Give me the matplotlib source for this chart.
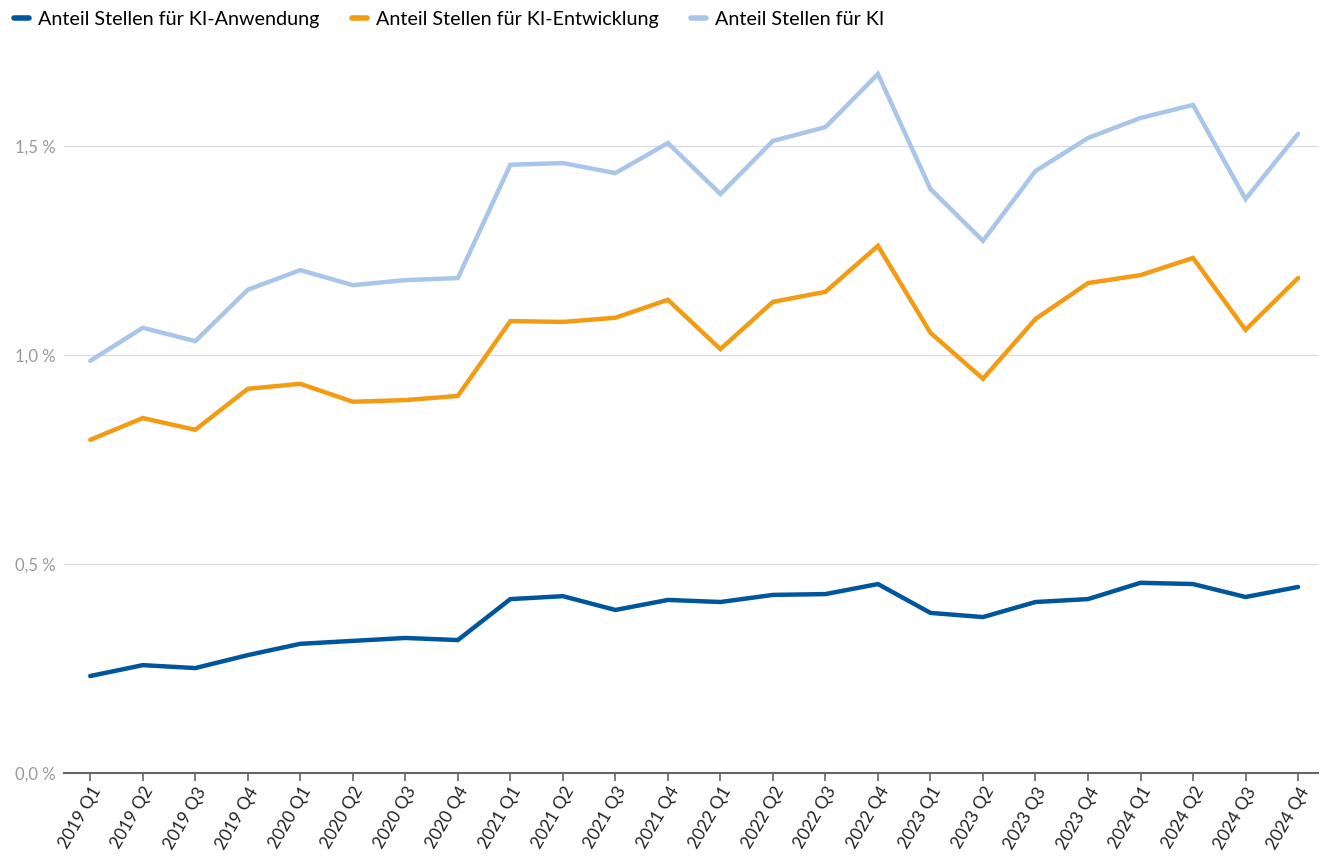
import matplotlib
matplotlib.use("Agg")
import matplotlib.pyplot as plt
from matplotlib.ticker import FuncFormatter

plt.rcParams['font.family'] = ['Lato', 'DejaVu Sans']

quarters = [f"{y} Q{q}" for y in range(2019, 2025) for q in range(1, 5)]

ki_anwendung = [0.232, 0.258, 0.251, 0.282, 0.309, 0.316, 0.323, 0.318,
                0.416, 0.423, 0.390, 0.414, 0.409, 0.426, 0.428, 0.452,
                0.383, 0.373, 0.409, 0.416, 0.455, 0.452, 0.421, 0.445]
ki_entwicklung = [0.797, 0.849, 0.821, 0.919, 0.931, 0.888, 0.892, 0.902,
                  1.081, 1.079, 1.089, 1.132, 1.014, 1.127, 1.151, 1.261,
                  1.053, 0.943, 1.086, 1.172, 1.191, 1.232, 1.060, 1.184]
ki_gesamt = [0.986, 1.065, 1.033, 1.156, 1.203, 1.167, 1.179, 1.184,
             1.455, 1.459, 1.435, 1.507, 1.385, 1.512, 1.545, 1.672,
             1.397, 1.273, 1.440, 1.519, 1.567, 1.598, 1.373, 1.529]

series_names = ["Anteil Stellen für KI-Anwendung",
                "Anteil Stellen für KI-Entwicklung",
                "Anteil Stellen für KI"]
colors = ["#00569c", "#f39c13", "#a9c5ea"]

fig = plt.figure(figsize=(13.21, 8.57), dpi=100)
ax = fig.add_axes([64/1321, 1 - 773/857, (1318-64)/1321, (773-41)/857])

x = list(range(len(quarters)))
for vals, name, c in zip([ki_anwendung, ki_entwicklung, ki_gesamt], series_names, colors):
    ax.plot(x, vals, color=c, lw=3.2, label=name, solid_capstyle='round', solid_joinstyle='miter')

ax.set_xlim(-0.5, 23.38)
ax.set_ylim(0, 1.751)
ax.set_yticks([0, 0.5, 1.0, 1.5])
ax.yaxis.set_major_formatter(FuncFormatter(lambda v, p: f"{v:.1f} %".replace(".", ",")))
ax.grid(axis='y', color='#dddddd', lw=1)
ax.set_axisbelow(True)
for s in ['top', 'right', 'left']:
    ax.spines[s].set_visible(False)
ax.spines['bottom'].set_color('#666666')
ax.spines['bottom'].set_linewidth(1.5)
ax.tick_params(axis='y', length=0, pad=6, labelsize=12, labelcolor='#999999')
ax.tick_params(axis='x', length=6, width=1.2, color='#666666', labelsize=12.5, labelcolor='#222222', pad=2)
ax.set_xticks(x)
ax.set_xticklabels(quarters, rotation=60, ha='right', rotation_mode='anchor')

fig.legend(loc='upper left', bbox_to_anchor=(-0.0025, 1.008), ncol=3, frameon=False,
           fontsize=14.2, handlelength=0.75, handletextpad=0.45, columnspacing=1.65)
for lh in fig.legends[0].get_lines():
    lh.set_linewidth(4)
    lh.set_solid_capstyle('round')

fig.savefig("out.png", dpi=100)
